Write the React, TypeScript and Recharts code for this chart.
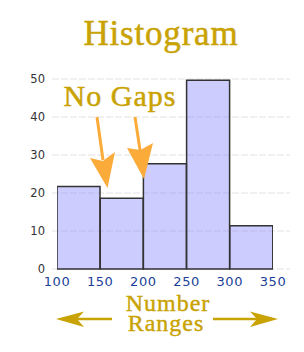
import React from "react";
import { BarChart, Bar, XAxis, YAxis, CartesianGrid } from "recharts";

const binStarts = [100, 150, 200, 250, 300];
const binWidth = 50;
const counts = [21.7, 18.6, 27.7, 49.7, 11.4];
const xTicks = [100, 150, 200, 250, 300, 350];
const yTicks = [0, 10, 20, 30, 40, 50];

const data = binStarts.map((start, i) => ({ mid: start + binWidth / 2, count: counts[i] }));

const GOLD = "#c9a203";
const ORANGE = "#fbab3a";
const SERIF = "'Liberation Serif', 'Times New Roman', serif";

export default function App() {
  return (
    <div style={{ position: "absolute", left: 0, top: 0, width: 304, height: 352, background: "#fff" }}>
      <BarChart
        width={304}
        height={352}
        data={data}
        margin={{ top: 79, right: 14, bottom: 53, left: 22 }}
        barCategoryGap={0}
        barGap={0}
      >
        <CartesianGrid vertical={false} stroke="#e2e2e2" strokeDasharray="7 2" />
        <XAxis
          dataKey="mid"
          type="number"
          domain={[100, 350]}
          ticks={xTicks}
          allowDataOverflow
          padding={{ left: 5, right: 17 }}
          axisLine={false}
          tickLine={false}
          tickSize={0}
          tickMargin={8}
          height={30}
          interval={0}
          tick={{ fill: "#1c3f98", fontSize: 13, fontFamily: "'DejaVu Sans', Verdana, sans-serif", letterSpacing: 0.6 }}
        />
        <YAxis
          domain={[0, 50]}
          ticks={yTicks}
          width={30}
          axisLine={false}
          tickLine={false}
          tickSize={0}
          tickMargin={7}
          interval={0}
          tick={{ fill: "#333", fontSize: 11.5, fontFamily: "'DejaVu Sans', Verdana, sans-serif" }}
        />
        <Bar
          dataKey="count"
          fill="#8080ff"
          fillOpacity={0.4}
          stroke="#333"
          strokeWidth={1.5}
          isAnimationActive={false}
        />
      </BarChart>
      <svg
        width={304}
        height={352}
        style={{ position: "absolute", left: 0, top: 0, pointerEvents: "none" }}
      >
        <text x={161} y={45} textAnchor="middle" fill={GOLD} stroke={GOLD} strokeWidth={0.5} fontFamily={SERIF} fontSize={35} letterSpacing={0.8}>
          Histogram
        </text>
        <text x={120} y={106} textAnchor="middle" fill={GOLD} stroke={GOLD} strokeWidth={0.5} fontFamily={SERIF} fontSize={30} letterSpacing={1}>
          No Gaps
        </text>
        <line x1={97} y1={117} x2={103} y2={160} stroke={ORANGE} strokeWidth={3} />
        <polygon points="107.5,188 90,158 102.8,161 115,152" fill={ORANGE} />
        <line x1={135} y1={117} x2={140} y2={150} stroke={ORANGE} strokeWidth={3} />
        <polygon points="144,179 127,148 140.3,150 153,143" fill={ORANGE} />
        <text x={168} y={311} textAnchor="middle" fill={GOLD} stroke={GOLD} strokeWidth={0.4} fontFamily={SERIF} fontSize={24} letterSpacing={1}>
          Number
        </text>
        <text x={166} y={331} textAnchor="middle" fill={GOLD} stroke={GOLD} strokeWidth={0.4} fontFamily={SERIF} fontSize={24} letterSpacing={1}>
          Ranges
        </text>
        <line x1={112} y1={319} x2={62} y2={319} stroke={GOLD} strokeWidth={2.5} />
        <polygon points="56,319 84,311.5 77,319 84,327" fill={GOLD} />
        <line x1={213} y1={319} x2={271} y2={319} stroke={GOLD} strokeWidth={2.5} />
        <polygon points="278,319 250,311.5 257,319 250,327" fill={GOLD} />
      </svg>
    </div>
  );
}
